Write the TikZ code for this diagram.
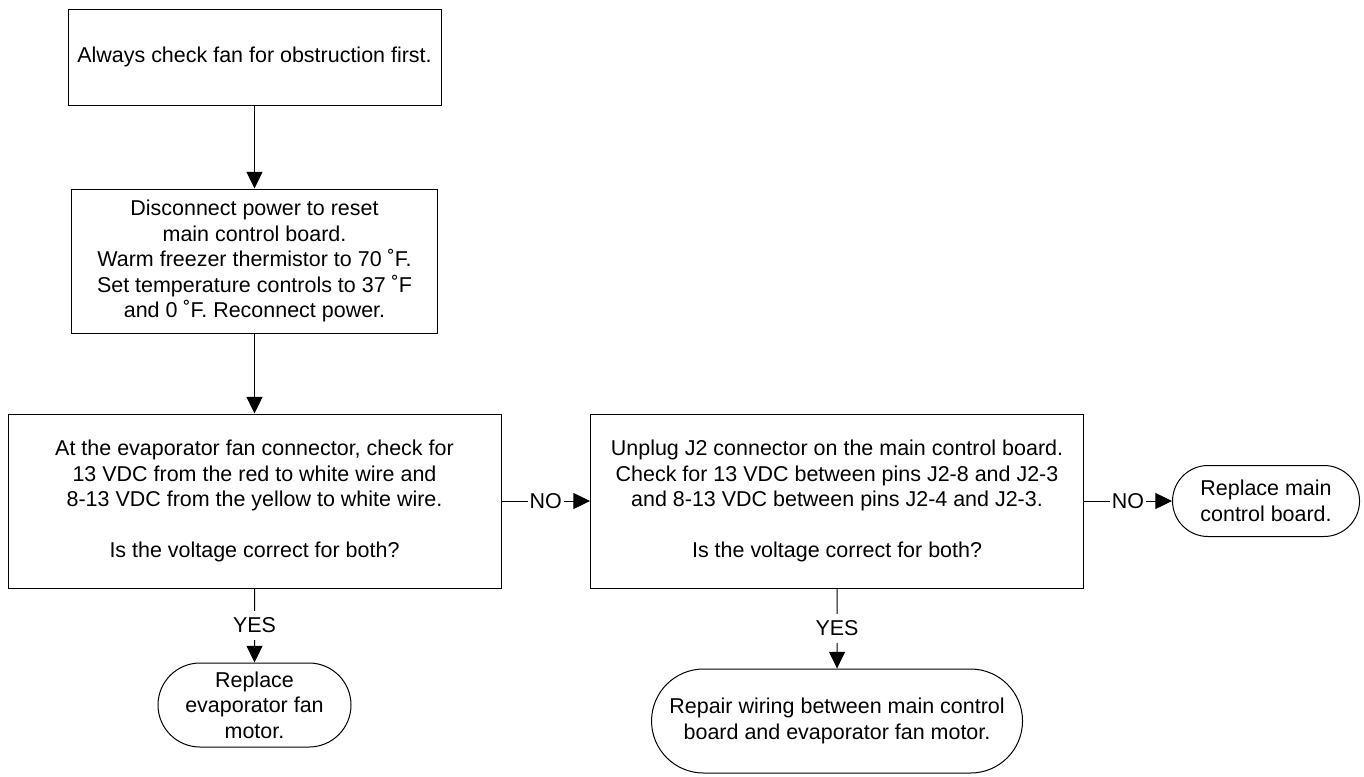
\documentclass[tikz,border=0pt]{standalone}
\usepackage{fontspec}
\setmainfont{Liberation Sans}
\usetikzlibrary{positioning, arrows.meta, shapes.misc}

\begin{document}
\begin{tikzpicture}[x=0.75pt,y=-0.75pt,node distance=153pt,on grid,line width=0.75pt,
    font=\fontsize{16.1}{19.1}\selectfont,
    box/.style={draw,rectangle,align=center,inner sep=0pt},
    term/.style={draw,rounded rectangle,align=center,inner sep=0pt},
    flow/.style={-{Triangle[length=12.5pt,width=12pt]}},
    lbl/.style={fill=white,inner xsep=1.5pt,inner ysep=5pt}]
    \useasboundingbox (0,0) rectangle (1364,776);

    \node[box,minimum width=279.75pt,minimum height=72pt] (start) at (254.5,57) {Always check fan for obstruction first.};
    \node[box,minimum width=274.5pt,minimum height=108pt] (reset) [below=of start]
        {Disconnect power to reset\\main control board.\\Warm freezer thermistor to 70 ˚F.\\Set temperature controls to 37 ˚F\\and 0 ˚F. Reconnect power.};
    \node[box,minimum width=369.75pt,minimum height=130.5pt] (fancheck) [below=180pt of reset]
        {At the evaporator fan connector, check for\\13 VDC from the red to white wire and\\8-13 VDC from the yellow to white wire.\\[19.1pt]Is the voltage correct for both?};
    \node[box,minimum width=369.75pt,minimum height=130.5pt] (jcheck) [right=436.9pt of fancheck]
        {Unplug J2 connector on the main control board.\\Check for 13 VDC between pins J2-8 and J2-3\\and 8-13 VDC between pins J2-4 and J2-3.\\[19.1pt]Is the voltage correct for both?};
    \node[term,minimum width=140.25pt,minimum height=53.25pt] (replboard) [right=321.75pt of jcheck]
        {Replace main\\control board.};
    \node[term,minimum width=144.75pt,minimum height=63pt] (replmotor) [below=of fancheck]
        {Replace\\evaporator fan\\motor.};
    \node[term,minimum width=278.25pt,minimum height=78pt] (repair) [below=165pt of jcheck]
        {Repair wiring between main control\\board and evaporator fan motor.};

    \draw[flow] (start) -- (reset);
    \draw[flow] (reset) -- (fancheck);
    \draw[flow] (fancheck) -- node[lbl] {NO} (jcheck);
    \draw[flow] (jcheck) -- node[lbl] {NO} (replboard);
    \draw[flow] (fancheck) -- node[lbl] {YES} (replmotor);
    \draw[flow] (jcheck) -- node[lbl] {YES} (repair);
\end{tikzpicture}
\end{document}
